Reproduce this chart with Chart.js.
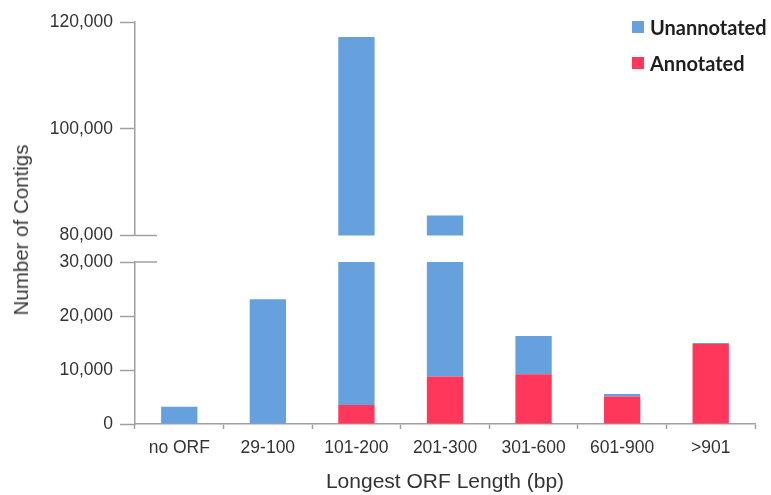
<!doctype html>
<html lang="en">
  <head>
    <meta charset="UTF-8" />
    <title>Longest ORF Length</title>
    <script src="https://cdn.jsdelivr.net/npm/chart.js"></script>
    <style>
      body {
        margin: 0;
        background: #ffffff;
        width: 771px;
        height: 495px;
        position: relative;
        overflow: hidden;
        font-family: "Liberation Sans", Arial, sans-serif;
      }
      #topWrap {
        position: absolute;
        left: 0;
        top: 0;
        width: 771px;
        height: 253px;
      }
      #bottomWrap {
        position: absolute;
        left: 0;
        top: 240px;
        width: 771px;
        height: 255px;
      }
      #yTitle {
        position: absolute;
        left: 21px;
        top: 230px;
        transform: translate(-50%, -50%) rotate(-90deg);
        font-size: 20.5px;
        color: #3a3a3a;
        white-space: nowrap;
      }
      #legend {
        position: absolute;
        left: 632px;
        top: 14px;
        font-family: Lato, "Open Sans", sans-serif;
        font-weight: bold;
        font-size: 20px;
        color: #1e1e1e;
      }
      .item {
        display: flex;
        align-items: center;
        height: 26px;
        margin-bottom: 10px;
      }
      .box {
        width: 12px;
        height: 12px;
        margin-right: 6px;
      }
    </style>
  </head>
  <body>
    <div id="topWrap"><canvas id="topChart"></canvas></div>
    <div id="bottomWrap"><canvas id="bottomChart"></canvas></div>
    <div id="yTitle">Number of Contigs</div>
    <div id="legend"></div>

    <script>
      // data
      const categories = ["no ORF", "29-100", "101-200", "201-300", "301-600", "601-900", ">901"];
      const annotated = [0, 0, 3500, 8800, 9200, 5100, 14800];
      const unannotated = [3200, 23100, 113700, 74950, 7100, 450, 200];
      const lowerTicks = [0, 10000, 20000, 30000];
      const upperTicks = [80000, 100000, 120000];

      const blue = "#66a1dd";
      const red = "#ff375b";
      const axisGrey = "#a0a0a0";
      const textCol = "#333333";

      // legend (Unannotated first, like the figure)
      const legendEl = document.getElementById("legend");
      [["Unannotated", blue], ["Annotated", red]].forEach(([name, col]) => {
        const row = document.createElement("div");
        row.className = "item";
        row.innerHTML = '<span class="box" style="background:' + col + '"></span>' + name;
        legendEl.appendChild(row);
      });

      function datasets() {
        return [
          { label: "Annotated", data: annotated, backgroundColor: red, borderWidth: 0, clip: 0 },
          { label: "Unannotated", data: unannotated, backgroundColor: blue, borderWidth: 0, clip: 0 },
        ];
      }

      // short horizontal stub marking the axis break
      const breakMark = {
        id: "breakMark",
        afterDraw(chart, args, opts) {
          const y = chart.scales.y;
          const py = y.getPixelForValue(opts.value);
          const ctx = chart.ctx;
          ctx.save();
          ctx.strokeStyle = axisGrey;
          ctx.lineWidth = 1.5;
          ctx.beginPath();
          ctx.moveTo(y.right, py);
          ctx.lineTo(y.right + 22, py);
          ctx.stroke();
          ctx.restore();
        },
      };

      function yScale(ticks) {
        return {
          stacked: true,
          min: ticks[0],
          max: ticks[ticks.length - 1],
          afterFit: (s) => {
            s.width = 135;
          },
          afterBuildTicks: (s) => {
            s.ticks = ticks.map((v) => ({ value: v }));
          },
          ticks: {
            color: textCol,
            font: { family: "Liberation Sans", size: 17.5 },
            padding: 7,
            callback: (v) => Number(v).toLocaleString("en-US"),
          },
          grid: { drawOnChartArea: false, tickLength: 15, tickColor: axisGrey, tickWidth: 1.5 },
          border: { color: axisGrey, width: 1.5 },
        };
      }

      const common = {
        responsive: true,
        maintainAspectRatio: false,
        animation: false,
        plugins: { legend: { display: false }, tooltip: { enabled: false } },
      };

      new Chart(document.getElementById("topChart"), {
        type: "bar",
        data: { labels: categories, datasets: datasets() },
        plugins: [breakMark],
        options: {
          ...common,
          categoryPercentage: 1,
          barPercentage: 0.41,
          layout: { padding: { top: 22, right: 16, bottom: 0, left: 0 } },
          plugins: { ...common.plugins, breakMark: { value: upperTicks[0] } },
          scales: {
            x: { stacked: true, display: false },
            y: yScale(upperTicks),
          },
        },
      });

      new Chart(document.getElementById("bottomChart"), {
        type: "bar",
        data: { labels: categories, datasets: datasets() },
        plugins: [breakMark],
        options: {
          ...common,
          categoryPercentage: 1,
          barPercentage: 0.41,
          layout: { padding: { top: 22, right: 16, bottom: 0, left: 0 } },
          plugins: { ...common.plugins, breakMark: { value: lowerTicks[lowerTicks.length - 1] } },
          scales: {
            x: {
              stacked: true,
              afterFit: (s) => {
                s.height = 71;
              },
              ticks: {
                color: textCol,
                font: { family: "Liberation Sans", size: 17.5 },
                padding: 9,
                maxRotation: 0,
              },
              grid: { drawOnChartArea: false, tickLength: 5, tickColor: axisGrey, tickWidth: 1.5 },
              border: { color: axisGrey, width: 1.5 },
              title: {
                display: true,
                text: "Longest ORF Length (bp)",
                color: textCol,
                font: { family: "Liberation Sans", size: 21 },
                padding: { top: 0, bottom: 0 },
              },
            },
            y: yScale(lowerTicks),
          },
        },
      });
    </script>
  </body>
</html>
